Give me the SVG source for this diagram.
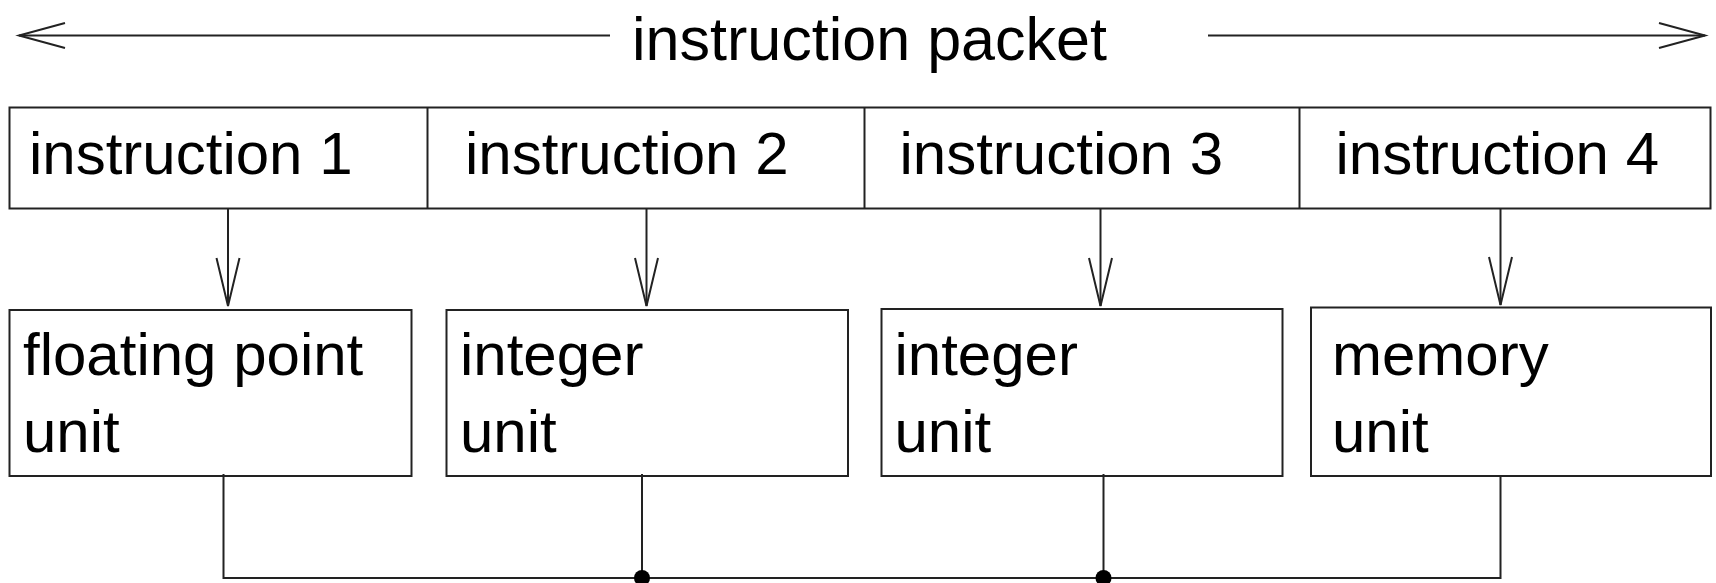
<svg xmlns="http://www.w3.org/2000/svg" width="1716" height="583" viewBox="0 0 1716 583">
<style>
.box{fill:#fff;stroke:#222;stroke-width:2}
.ln{fill:none;stroke:#222;stroke-width:2}
.ah{fill:none;stroke:#222;stroke-width:2;stroke-linejoin:miter}
.t{font-family:"Liberation Sans",Arial,sans-serif;font-size:60px;fill:#000}
.tp{font-family:"Liberation Sans",Arial,sans-serif;font-size:61px;fill:#000}
</style>
<rect width="1716" height="583" fill="#fff"/>
<g id="packet-label">
<line class="ln" x1="19" y1="35.5" x2="610" y2="35.5"/>
<polyline class="ah" points="65,23 19,35.5 65,48"/>
<text class="tp" x="632" y="60" textLength="475" lengthAdjust="spacingAndGlyphs">instruction packet</text>
<line class="ln" x1="1208" y1="35.5" x2="1705" y2="35.5"/>
<polyline class="ah" points="1659,23 1705,35.5 1659,48"/>
</g>
<g id="instruction-row">
<rect class="box" x="9.5" y="107.5" width="1701" height="101"/>
<line class="ln" x1="427.5" y1="107.5" x2="427.5" y2="208.5"/>
<line class="ln" x1="864.5" y1="107.5" x2="864.5" y2="208.5"/>
<line class="ln" x1="1299.5" y1="107.5" x2="1299.5" y2="208.5"/>
</g>
<g id="instr1"><text class="t" x="29" y="174">instruction 1</text></g>
<g id="instr2"><text class="t" x="465" y="174">instruction 2</text></g>
<g id="instr3"><text class="t" x="899.5" y="174">instruction 3</text></g>
<g id="instr4"><text class="t" x="1335.5" y="174">instruction 4</text></g>
<g id="fpu">
<rect class="box" x="9.5" y="310" width="402" height="166"/>
<text class="t" x="23" y="375">floating point</text>
<text class="t" x="23" y="452">unit</text>
</g>
<g id="int1">
<rect class="box" x="446.5" y="310" width="401.5" height="166"/>
<text class="t" x="460" y="375">integer</text>
<text class="t" x="460" y="452">unit</text>
</g>
<g id="int2">
<rect class="box" x="881.5" y="309" width="401" height="167"/>
<text class="t" x="894.5" y="375">integer</text>
<text class="t" x="894.5" y="452">unit</text>
</g>
<g id="mem">
<rect class="box" x="1311" y="307.5" width="400" height="168.5"/>
<text class="t" x="1332" y="375">memory</text>
<text class="t" x="1332" y="452">unit</text>
</g>
<g id="connectors">
<line class="ln" x1="228" y1="208.5" x2="228" y2="306"/>
<polyline class="ah" points="216.5,258 228,306 239.5,258"/>
<line class="ln" x1="646.5" y1="208.5" x2="646.5" y2="306"/>
<polyline class="ah" points="635,258 646.5,306 658,258"/>
<line class="ln" x1="1100.5" y1="208.5" x2="1100.5" y2="306"/>
<polyline class="ah" points="1089,258 1100.5,306 1112,258"/>
<line class="ln" x1="1500.5" y1="208.5" x2="1500.5" y2="305"/>
<polyline class="ah" points="1489,257 1500.5,305 1512,257"/>
<polyline class="ln" points="223.5,474 223.5,578 1500.5,578 1500.5,476"/>
<line class="ln" x1="642" y1="474" x2="642" y2="578"/>
<line class="ln" x1="1103.5" y1="474" x2="1103.5" y2="578"/>
<circle cx="642" cy="578" r="8" fill="#000"/>
<circle cx="1103.5" cy="578" r="8" fill="#000"/>
</g>
</svg>
